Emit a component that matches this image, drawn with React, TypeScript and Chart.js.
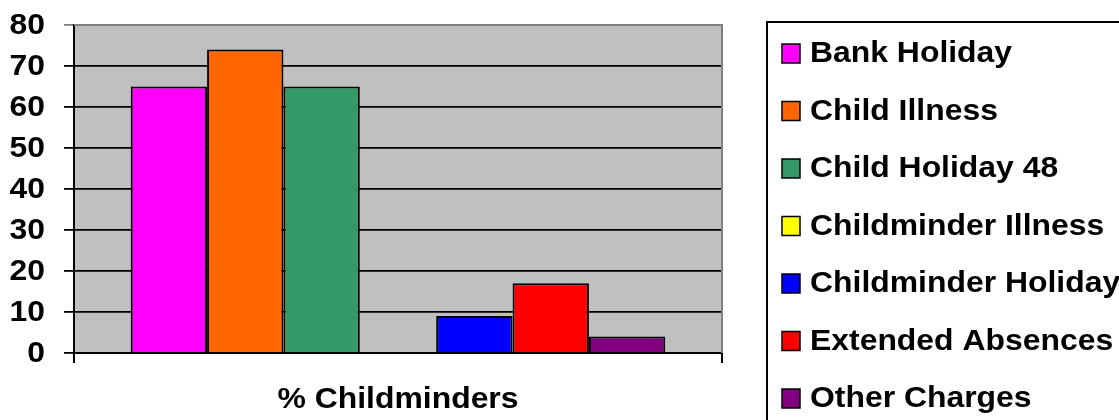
import React, { useEffect, useRef } from "react";
import { Chart, registerables } from "chart.js";

Chart.register(...registerables);

const categories = ["% Childminders"];
const seriesNames = [
  "Bank Holiday",
  "Child Illness",
  "Child Holiday 48",
  "Childminder Illness",
  "Childminder Holiday",
  "Extended Absences",
  "Other Charges",
];
const seriesValues = [65, 74, 65, 0, 9, 17, 4];
const seriesColors = ["#FF00FF", "#FF6600", "#339966", "#FFFF00", "#0000FF", "#FF0000", "#800080"];
const yTicks = [0, 10, 20, 30, 40, 50, 60, 70, 80];

const FONT = "'Liberation Sans', Arial, sans-serif";
const TEXT_FONT = `bold 29px ${FONT}`;
const STRETCH = 1.1;

function stretchedText(ctx: any, text: string, x: number, y: number, align: string) {
  ctx.save();
  ctx.translate(x, y);
  ctx.scale(STRETCH, 1);
  ctx.font = TEXT_FONT;
  ctx.fillStyle = "#000";
  ctx.textAlign = align;
  ctx.textBaseline = "middle";
  ctx.fillText(text, 0, 0);
  ctx.restore();
}

const bgPlugin = {
  id: "plotBg",
  beforeDraw(chart: any) {
    const { ctx, chartArea } = chart;
    ctx.save();
    ctx.fillStyle = "#C0C0C0";
    ctx.fillRect(chartArea.left, chartArea.top, chartArea.right - chartArea.left, chartArea.bottom - chartArea.top);
    ctx.restore();
  },
  afterDatasetsDraw(chart: any) {
    const { ctx, chartArea } = chart;
    ctx.save();
    ctx.strokeStyle = "#808080";
    ctx.lineWidth = 2;
    ctx.beginPath();
    ctx.moveTo(chartArea.left, chartArea.top);
    ctx.lineTo(chartArea.right, chartArea.top);
    ctx.lineTo(chartArea.right, chartArea.bottom);
    ctx.stroke();
    ctx.restore();
  },
};

const labelPlugin = {
  id: "stretchedLabels",
  afterDraw(chart: any) {
    const { ctx } = chart;
    const ys = chart.scales.y;
    ys.ticks.forEach((t: any) => {
      stretchedText(ctx, String(t.value), 45, ys.getPixelForValue(t.value) + 1, "right");
    });
    const xs = chart.scales.x;
    (chart.data.labels as string[]).forEach((lab, i) => {
      stretchedText(ctx, lab, xs.getPixelForValue(i), 400, "center");
    });
  },
};

const legendPlugin = {
  id: "boxLegend",
  afterDraw(chart: any) {
    const { ctx } = chart;
    const boxLeft = 767;
    const boxTop = 22;
    ctx.save();
    ctx.strokeStyle = "#000";
    ctx.lineWidth = 2;
    ctx.strokeRect(boxLeft, boxTop, 400, 420);
    const firstY = 53;
    const step = 57.5;
    chart.data.datasets.forEach((ds: any, i: number) => {
      const cy = firstY + i * step;
      ctx.fillStyle = ds.backgroundColor;
      ctx.fillRect(782, cy - 9, 18, 19);
      ctx.lineWidth = 1.5;
      ctx.strokeStyle = "#000";
      ctx.strokeRect(782, cy - 9, 18, 19);
      stretchedText(ctx, ds.label, 810, cy + 1, "left");
    });
    ctx.restore();
  },
};

export default function App() {
  const ref = useRef<HTMLCanvasElement | null>(null);
  useEffect(() => {
    if (!ref.current) return;
    const chart = new Chart(ref.current, {
      type: "bar",
      data: {
        labels: categories,
        datasets: seriesNames.map((name, i) => ({
          label: name,
          data: [seriesValues[i]],
          backgroundColor: seriesColors[i],
          borderColor: "#000",
          borderWidth: 2,
          categoryPercentage: 0.825,
          barPercentage: 1,
        })),
      },
      options: {
        animation: false,
        responsive: false,
        devicePixelRatio: 1,
        layout: { padding: { top: 25, right: 397, left: 0, bottom: 0 } },
        plugins: { legend: { display: false }, tooltip: { enabled: false } },
        scales: {
          x: {
            offset: true,
            grid: { display: true, drawOnChartArea: false, color: "#000", lineWidth: 2, tickLength: 10 },
            border: { display: true, color: "#000", width: 2 },
            ticks: { display: false },
            afterFit: (s: any) => {
              s.height = 67;
            },
          },
          y: {
            min: 0,
            max: 80,
            afterBuildTicks: (s: any) => {
              s.ticks = yTicks.map((v) => ({ value: v }));
            },
            grid: {
              color: (c: any) => (c.tick && c.tick.value === 80 ? "#808080" : "#000"),
              lineWidth: 1.8,
              tickLength: 10,
            },
            border: { display: true, color: "#000", width: 2 },
            ticks: { display: false },
            afterFit: (s: any) => {
              s.width = 74;
            },
          },
        },
      },
      plugins: [bgPlugin, labelPlugin, legendPlugin],
    });
    return () => chart.destroy();
  }, []);
  return (
    <div style={{ position: "absolute", left: 0, top: 0, width: 1119, height: 420, background: "#fff" }}>
      <canvas ref={ref} width={1119} height={420} style={{ display: "block", width: 1119, height: 420 }} />
    </div>
  );
}
